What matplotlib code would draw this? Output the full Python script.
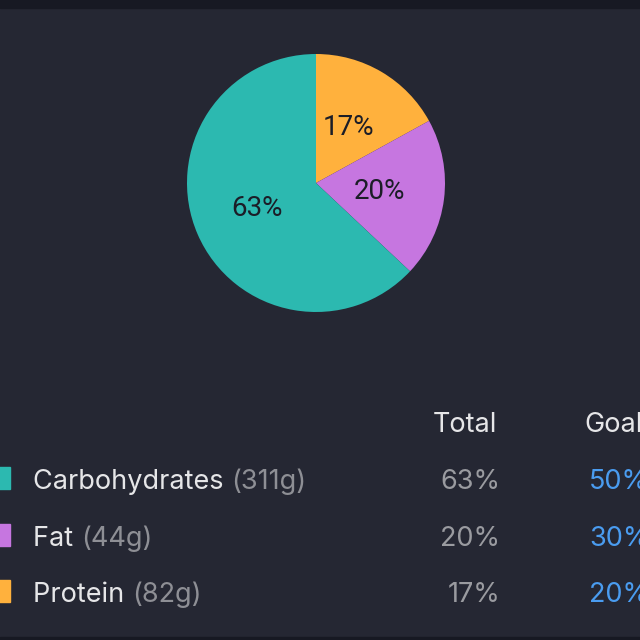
import matplotlib
matplotlib.use("Agg")
import matplotlib.pyplot as plt
from matplotlib.patches import Rectangle

# macro data
names = ["Carbohydrates", "Fat", "Protein"]
grams = ["311g", "44g", "82g"]
total_pct = [63, 20, 17]
goal_pct = [50, 30, 20]
colors = ["#2cb9b0", "#c676e0", "#ffb13d"]

BG = "#252733"
W = H = 640

fig = plt.figure(figsize=(6.4, 6.4), dpi=100, facecolor=BG)

def fx(px):
    return px / W

def fy(py):
    return 1 - py / H

# top / bottom bands
fig.add_artist(Rectangle((0, fy(8)), 1, fy(0) - fy(8), transform=fig.transFigure,
                         color="#171923", zorder=0))
fig.add_artist(Rectangle((0, 0), 1, fy(637), transform=fig.transFigure,
                         color="#171923", zorder=0))

# pie: center (316,183) radius 129 px
cx, cy, r = 316, 183, 129
ax = fig.add_axes([fx(cx - r), fy(cy + r), 2 * r / W, 2 * r / H])
ax.set_facecolor(BG)
order = [2, 1, 0]  # protein, fat, carbs clockwise from top
wedges, texts, autotexts = ax.pie(
    [total_pct[i] for i in order],
    colors=[colors[i] for i in order],
    startangle=90, counterclock=False,
    autopct="%.0f%%", pctdistance=0.5,
    wedgeprops=dict(linewidth=0),
    textprops=dict(color="#1b1d27", fontsize=20, family="Roboto"),
)
ax.set_xlim(-1, 1)
ax.set_ylim(-1, 1)
ax.axis("off")

fig.canvas.draw()
renderer = fig.canvas.get_renderer()

tfont = dict(family="Inter", fontsize=19.5)

fig.text(fx(497), fy(432), "Total", color="#e6e6e8", ha="right", va="baseline", **tfont)
fig.text(fx(584), fy(432), "Goal", color="#e6e6e8", ha="left", va="baseline", **tfont)

baselines = [489, 546, 602]
for i, name in enumerate(names):
    b = baselines[i]
    fig.add_artist(Rectangle((fx(-12), fy(b)), fx(22), fy(467) - fy(489),
                             transform=fig.transFigure, color=colors[i]))
    t = fig.text(fx(33), fy(b), name + " ", color="#e6e6e8", ha="left", va="baseline", **tfont)
    ext = t.get_window_extent(renderer)
    fig.text(ext.x1 / W, fy(b), "(" + grams[i] + ")", color="#8e8f95",
             ha="left", va="baseline", **tfont)
    fig.text(fx(500), fy(b), f"{total_pct[i]}%", color="#9a9ba0",
             ha="right", va="baseline", **tfont)
    fig.text(fx(589), fy(b), f"{goal_pct[i]}%", color="#4a9cf0",
             ha="left", va="baseline", **tfont)

fig.savefig("out.png", dpi=100, facecolor=BG)
